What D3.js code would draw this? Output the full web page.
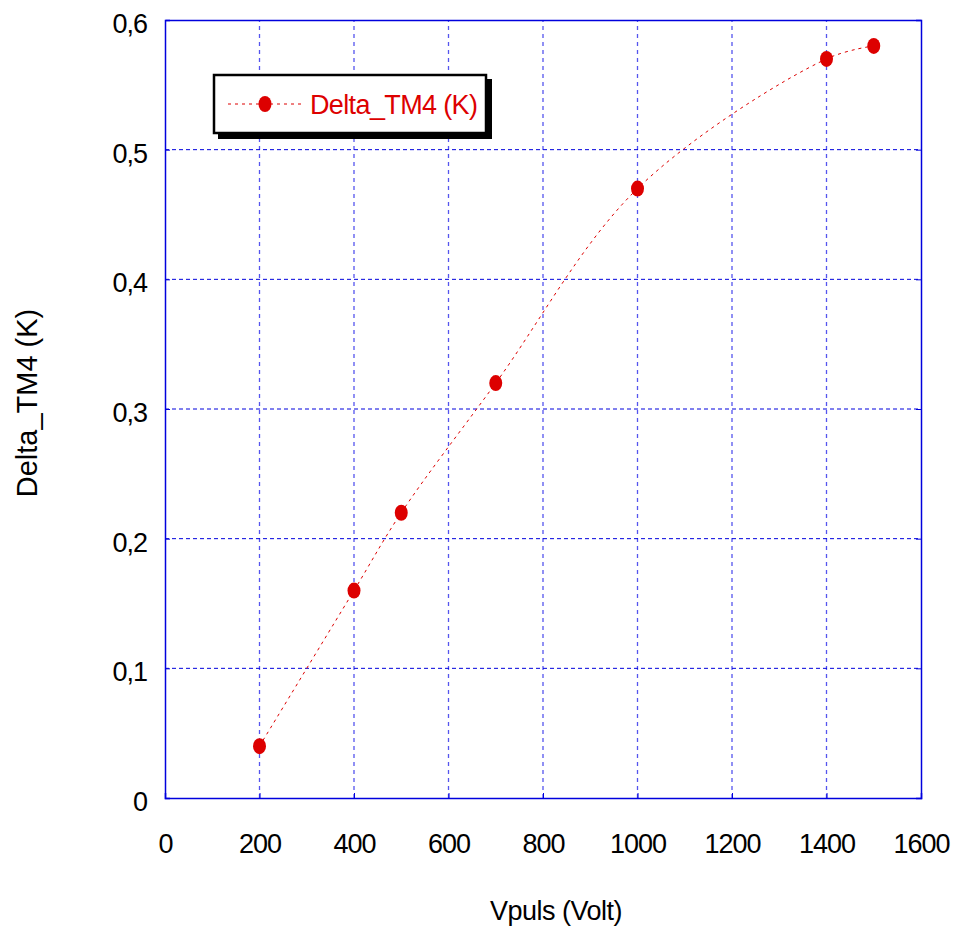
<html>
<head>
    <title>Delta_TM4</title>
    <script src="https://cdn.jsdelivr.net/npm/d3@7"></script>
    <style>
        body { margin: 0; background: #fff; }
        text { font-family: "Liberation Sans", Arial, sans-serif; }
    </style>
</head>
<body>
<script>

    const width = 957;
    const height = 934;

    const margin = {left: 165, right: 36, top: 20, bottom: 136};

    // data
    const vpuls = [200, 400, 500, 700, 1000, 1400, 1500];
    const deltaTM4 = [0.04, 0.16, 0.22, 0.32, 0.47, 0.57, 0.58];

    const xTicks = [0, 200, 400, 600, 800, 1000, 1200, 1400, 1600];
    const yTicks = [0, 0.1, 0.2, 0.3, 0.4, 0.5, 0.6];

    const seriesName = "Delta_TM4 (K)";
    const xTitle = "Vpuls (Volt)";
    const yTitle = "Delta_TM4 (K)";

    const red = "#dd0000";
    const blue = "#0000dd";

    const x = d3.scaleLinear()
        .domain([0, 1600])
        .range([margin.left, width - margin.right]);

    const y = d3.scaleLinear()
        .domain([0, 0.6])
        .range([height - margin.bottom, margin.top]);

    const fmt = d => String(d).replace(".", ",");

    var svg = d3.select("body").append("svg")
        .attr("width", width)
        .attr("height", height);

    // grid
    svg.append("g")
        .selectAll("line")
        .data(xTicks.slice(1, -1))
        .enter()
        .append("line")
        .attr("x1", d => x(d)).attr("x2", d => x(d))
        .attr("y1", y(0)).attr("y2", y(0.6))
        .attr("stroke", "#5555ee")
        .attr("stroke-width", 1.3)
        .attr("stroke-dasharray", "4,4");

    svg.append("g")
        .selectAll("line")
        .data(yTicks.slice(1, -1))
        .enter()
        .append("line")
        .attr("y1", d => y(d)).attr("y2", d => y(d))
        .attr("x1", x(0)).attr("x2", x(1600))
        .attr("stroke", blue)
        .attr("stroke-width", 1)
        .attr("stroke-dasharray", "4,3");

    // axes with inward ticks
    const xAxis = svg.append("g")
        .attr("transform", `translate(0,${y(0)})`)
        .call(d3.axisBottom(x).tickValues(xTicks).tickSize(-5).tickFormat(fmt));

    const yAxis = svg.append("g")
        .attr("transform", `translate(${x(0)},0)`)
        .call(d3.axisLeft(y).tickValues(yTicks).tickSize(-5).tickFormat(fmt));

    svg.append("g")
        .attr("transform", `translate(${x(1600)},0)`)
        .call(d3.axisRight(y).tickValues(yTicks).tickSize(-5).tickFormat(""));

    svg.append("g")
        .attr("transform", `translate(0,${y(0.6)})`)
        .call(d3.axisTop(x).tickValues(xTicks).tickSize(0).tickFormat(""));

    svg.selectAll(".domain").attr("stroke", blue).attr("stroke-width", 1.5);
    svg.selectAll(".tick line").attr("stroke", blue);
    svg.selectAll(".tick text")
        .attr("fill", "#000")
        .style("font-size", "27px")
        .style("letter-spacing", "-1px");
    xAxis.selectAll(".tick text").attr("y", 55).attr("dy", 0);
    yAxis.selectAll(".tick text").attr("x", -18).attr("dy", "0.46em");

    // axis titles
    svg.append("text")
        .attr("x", 556)
        .attr("y", 920)
        .attr("text-anchor", "middle")
        .style("font-size", "27px")
        .style("letter-spacing", "-0.5px")
        .text(xTitle);

    svg.append("text")
        .attr("transform", `translate(37,${(y(0) + y(0.6)) / 2 - 6}) rotate(-90)`)
        .attr("text-anchor", "middle")
        .style("font-size", "29px")
        .text(yTitle);

    // series
    const points = vpuls.map((v, i) => [v, deltaTM4[i]]);

    const line = d3.line()
        .x(d => x(d[0]))
        .y(d => y(d[1]))
        .curve(d3.curveCatmullRom.alpha(0.5));

    svg.append("path")
        .attr("d", line(points))
        .attr("fill", "none")
        .attr("stroke", red)
        .attr("stroke-width", 1)
        .attr("stroke-dasharray", "3,4");

    svg.append("g")
        .selectAll("ellipse")
        .data(points)
        .enter()
        .append("ellipse")
        .attr("cx", d => x(d[0]))
        .attr("cy", d => y(d[1]))
        .attr("rx", 6.5)
        .attr("ry", 8)
        .attr("fill", red);

    // legend
    const lg = svg.append("g").attr("transform", "translate(213,74)");
    lg.append("rect")
        .attr("x", 5).attr("y", 5)
        .attr("width", 274).attr("height", 60)
        .attr("fill", "#000");
    lg.append("rect")
        .attr("x", 1).attr("y", 1)
        .attr("width", 272).attr("height", 58)
        .attr("fill", "#fff")
        .attr("stroke", "#000")
        .attr("stroke-width", 2.5);
    lg.append("line")
        .attr("x1", 15).attr("x2", 88)
        .attr("y1", 30).attr("y2", 30)
        .attr("stroke", red)
        .attr("stroke-dasharray", "3,4");
    lg.append("ellipse")
        .attr("cx", 52).attr("cy", 30)
        .attr("rx", 6.5).attr("ry", 8)
        .attr("fill", red);
    lg.append("text")
        .attr("x", 97).attr("y", 40)
        .attr("fill", red)
        .style("font-size", "27px")
        .attr("textLength", 168)
        .text(seriesName);

</script>
</body>
</html>
